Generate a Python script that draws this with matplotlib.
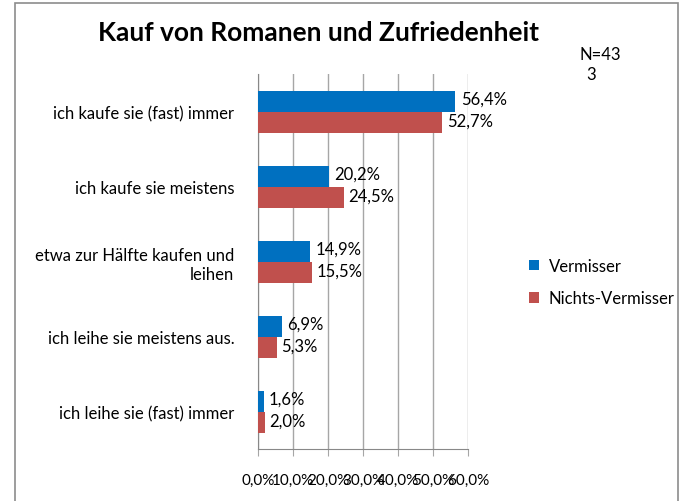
"""
Kauf von Romanen und Zufriedenheit - horizontal grouped bars.
"""
import matplotlib.pyplot as plt
import numpy as np
from matplotlib.patches import Rectangle
from matplotlib.ticker import FuncFormatter

CATEGORIES = [
    "ich kaufe sie (fast) immer",
    "ich kaufe sie meistens",
    "etwa zur Hälfte kaufen und\nleihen",
    "ich leihe sie meistens aus.",
    "ich leihe sie (fast) immer",
]
VERMISSER = [56.4, 20.2, 14.9, 6.9, 1.6]
NICHTS_VERMISSER = [52.7, 24.5, 15.5, 5.3, 2.0]
SERIES_NAMES = ["Vermisser", "Nichts-Vermisser"]
X_TICKS = [0, 10, 20, 30, 40, 50, 60]

BLUE = "#0070C0"
RED = "#C0504D"
GRID = "#A6A6A6"
FS = 12

plt.rcParams["font.family"] = ["Lato", "DejaVu Sans"]


def pct(v):
    return f"{v:.1f}%".replace(".", ",")


def main() -> None:
    fig = plt.figure(figsize=(6.82, 5.02), dpi=100)
    ax = fig.add_axes([258 / 682, 1 - 450 / 502, 210 / 682, 375 / 502])

    n = len(CATEGORIES)
    y = np.arange(n)[::-1]
    h = 0.28

    ax.barh(y + h / 2, VERMISSER, height=h, color=BLUE, label=SERIES_NAMES[0], zorder=3)
    ax.barh(y - h / 2, NICHTS_VERMISSER, height=h, color=RED, label=SERIES_NAMES[1], zorder=3)

    for yi, v in zip(y, VERMISSER):
        ax.text(v + 1.5, yi + h / 2 + 0.03, pct(v), va="center", ha="left", fontsize=FS)
    for yi, v in zip(y, NICHTS_VERMISSER):
        ax.text(v + 1.3, yi - h / 2 + 0.02, pct(v), va="center", ha="left", fontsize=FS)

    ax.set_xlim(X_TICKS[0], X_TICKS[-1])
    ax.set_ylim(-0.5, n - 0.5)
    ax.set_xticks(X_TICKS)
    ax.xaxis.set_major_formatter(FuncFormatter(lambda v, _: pct(v)))
    ax.set_yticks(y)
    ax.set_yticklabels(CATEGORIES, fontsize=FS)
    ax.tick_params(axis="y", length=0, pad=17)
    ax.tick_params(axis="x", length=5, color=GRID, labelsize=11, pad=12)
    ax.grid(axis="x", color=GRID, linewidth=1, zorder=0)
    for side in ["top", "right"]:
        ax.spines[side].set_visible(False)
    for side in ["left", "bottom"]:
        ax.spines[side].set_color("#888888")

    ax.legend(
        loc="center left", bbox_to_anchor=(514 / 682, 1 - 283 / 502),
        bbox_transform=fig.transFigure, frameon=False, fontsize=FS,
        handlelength=0.6, handleheight=0.6, handletextpad=0.6, labelspacing=1.0,
    )

    fig.text(318 / 682, 1 - 33 / 502, "Kauf von Romanen und Zufriedenheit",
             ha="center", va="center", fontsize=19, fontweight="bold")
    fig.text(600 / 682, 1 - 55 / 502, "N=43", ha="center", va="center", fontsize=FS)
    fig.text(591 / 682, 1 - 75 / 502, "3", ha="center", va="center", fontsize=FS)

    border = Rectangle((15 / 682, -0.1), 663 / 682, 1.1 - 4 / 502,
                       transform=fig.transFigure, fill=False,
                       edgecolor="#8C8C8C", linewidth=1.2)
    fig.add_artist(border)

    fig.savefig("out.png", dpi=100)
    plt.close(fig)


if __name__ == "__main__":
    main()
